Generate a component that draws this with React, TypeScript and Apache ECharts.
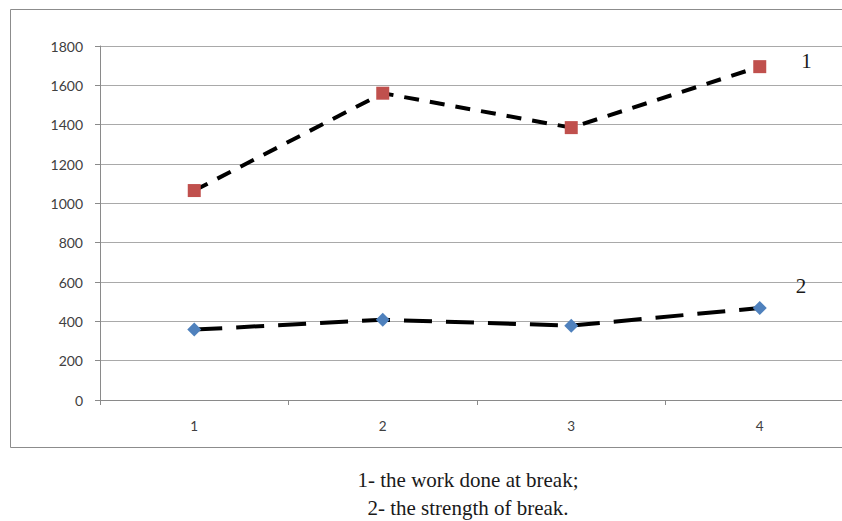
import React, { useEffect, useRef } from "react";
import * as echarts from "echarts";

const categories = ["1", "2", "3", "4"];
const workDone = [1065, 1560, 1385, 1695];
const strength = [358, 408, 378, 468];
const yTicks = { min: 0, max: 1800, interval: 200 };
const seriesTags = ["1", "2"];
const captionLines = ["1- the work done at break;", "2- the strength of break."];

const SERIF = "serif";

export default function App() {
  const ref = useRef<HTMLDivElement>(null);
  useEffect(() => {
    if (!ref.current) return;
    const chart = echarts.init(ref.current, undefined, { renderer: "svg" });
    const lastLabel = (arr: number[], tag: string, offset: number[]) =>
      arr.map((v, i) =>
        i === arr.length - 1
          ? {
              value: v,
              label: {
                show: true,
                formatter: tag,
                position: "right",
                offset,
                fontFamily: SERIF,
                fontSize: 21,
                color: "#1a1a1a",
              },
            }
          : v
      );
    const captionStyle = {
      fontFamily: SERIF,
      fontSize: 21,
      fontWeight: "normal",
      fontStyle: "normal",
      color: "#1a1a1a",
    };
    chart.setOption({
      animation: false,
      backgroundColor: "#ffffff",
      title: [
        { text: captionLines[0], left: 468, top: 469, textAlign: "center", padding: 0, textStyle: captionStyle },
        { text: captionLines[1], left: 468, top: 497, textAlign: "center", padding: 0, textStyle: captionStyle },
      ],
      grid: { left: 100, top: 46, width: 754, height: 354 },
      xAxis: {
        type: "category",
        data: categories,
        boundaryGap: true,
        axisLine: { lineStyle: { color: "#8a8a8a", width: 1 } },
        axisTick: { show: true, length: 5, lineStyle: { color: "#8a8a8a" } },
        axisLabel: {
          margin: 19,
          color: "#404040",
          fontSize: 13.5,
          fontFamily: "Lato",
        },
        splitLine: { show: false },
      },
      yAxis: {
        type: "value",
        min: yTicks.min,
        max: yTicks.max,
        interval: yTicks.interval,
        axisLine: { show: true, lineStyle: { color: "#8a8a8a", width: 1 } },
        axisTick: { show: true, length: 5, lineStyle: { color: "#8a8a8a" } },
        axisLabel: {
          margin: 17,
          color: "#404040",
          fontSize: 14,
          fontFamily: "Lato",
          formatter: (v: number) => String(v),
        },
        splitLine: { show: true, lineStyle: { color: "#a9a9a9", width: 1 } },
      },
      series: [
        {
          type: "line",
          data: lastLabel(workDone, seriesTags[0], [30, -6]),
          symbol: "rect",
          symbolSize: 13,
          itemStyle: { color: "#c0504d" },
          lineStyle: { color: "#000000", width: 4, type: [15, 11] },
          z: 3,
        },
        {
          type: "line",
          data: lastLabel(strength, seriesTags[1], [24, -22]),
          symbol: "diamond",
          symbolSize: 14,
          itemStyle: { color: "#4f81bd" },
          lineStyle: { color: "#000000", width: 4, type: [28, 14] },
          z: 3,
        },
      ],
      graphic: [
        {
          type: "rect",
          shape: { x: 10.5, y: 9.5, width: 860, height: 438 },
          style: { fill: "none", stroke: "#8c8c8c", lineWidth: 1 },
          silent: true,
          z: -1,
        },
      ],
    });
    return () => chart.dispose();
  }, []);
  return (
    <div
      style={{
        position: "fixed",
        left: 0,
        top: 0,
        width: 842,
        height: 521,
        overflow: "hidden",
        background: "#fff",
      }}
    >
      <div ref={ref} style={{ width: 880, height: 521 }} />
    </div>
  );
}
